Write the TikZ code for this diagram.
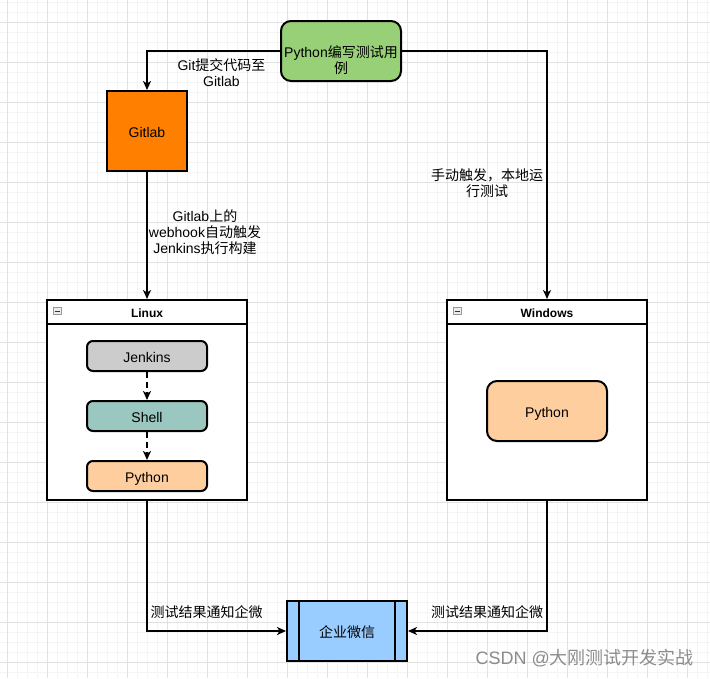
\documentclass[tikz,border=0pt]{standalone}
\usepackage{fontspec}
\setmainfont{Liberation Sans}
\newfontfamily\cjk{Noto Sans CJK SC}
\newcommand{\zh}[1]{{\cjk #1}}
\usetikzlibrary{arrows.meta}
\definecolor{gridmajor}{HTML}{E2E2E2}
\definecolor{gridminor}{HTML}{F4F4F4}
\definecolor{pygreen}{HTML}{97D077}
\definecolor{gitorange}{HTML}{FF8000}
\definecolor{jgray}{HTML}{CCCCCC}
\definecolor{shteal}{HTML}{9AC7BF}
\definecolor{pypeach}{HTML}{FFCE9F}
\definecolor{wxblue}{HTML}{99CCFF}
\definecolor{wmgray}{HTML}{8C8C8C}
\tikzset{
  base/.style={draw=black, line width=2pt, align=center, inner sep=1pt,
    text height=12pt, text depth=0pt,
    font=\fontsize{14pt}{16pt}\selectfont, text=black},
  roundbox/.style={base, rounded corners=6pt, minimum width=120pt, minimum height=30pt},
  bigbox/.style={base, rounded corners=10pt, minimum width=120pt, minimum height=60pt},
  container/.style={draw=black, line width=2pt, fill=white, minimum width=200pt, minimum height=200pt, inner sep=0pt},
  title/.style={font=\bfseries\fontsize{12pt}{14pt}\selectfont, text=black},
  lbl/.style={align=center, font=\fontsize{14pt}{16pt}\selectfont, text=black, inner sep=0pt},
  conn/.style={line width=1.6pt, draw=black, -{Stealth[length=9pt,width=8pt,inset=2.5pt]}},
  dconn/.style={conn, dash pattern=on 6pt off 4pt},
  minusicon/.style={draw=gray!80, line width=0.6pt, fill=gray!15, minimum width=8pt, minimum height=7pt, inner sep=0pt}
}
\begin{document}
\begin{tikzpicture}[x=1pt,y=-1pt]
\useasboundingbox (0,0) rectangle (710,678);
\fill[white] (0,0) rectangle (710,678);
% grid
\foreach \x in {7,17,...,707} \draw[gridminor, line width=0.8pt] (\x,0) -- (\x,678);
\foreach \y in {2,12,...,672} \draw[gridminor, line width=0.8pt] (0,\y) -- (710,\y);
\foreach \x in {7,47,...,707} \draw[gridmajor, line width=0.8pt] (\x,0) -- (\x,678);
\foreach \y in {22,62,...,662} \draw[gridmajor, line width=0.8pt] (0,\y) -- (710,\y);

% top nodes
\node[bigbox, fill=pygreen, text width=116pt] (py) at (341,51) {Python\zh{编写测试用}\\\zh{例}};
\node[base, fill=gitorange, minimum width=80pt, minimum height=80pt] (gitlab) at (147,131) {Gitlab};

% containers
\node[container] (linux) at (147,400) {};
\draw[line width=2pt] (47,324) coordinate (lh1) -- (247,324) coordinate (lh2);
\node[title] (linuxt) at (147,313.5) {Linux};
\node[minusicon] (lmin) at (57,311) {};
\draw[line width=1pt, black!80] (54.5,311) -- (59.5,311);

\node[container] (win) at (547,400) {};
\draw[line width=2pt] (447,324) coordinate (wh1) -- (647,324) coordinate (wh2);
\node[title] (wint) at (547,313.5) {Windows};
\node[minusicon] (wmin) at (457,311) {};
\draw[line width=1pt, black!80] (454.5,311) -- (459.5,311);

% inner nodes
\node[roundbox, fill=jgray] (jenkins) at (147,356) {Jenkins};
\node[roundbox, fill=shteal] (shell) at (147,416) {Shell};
\node[roundbox, fill=pypeach] (pyl) at (147,476) {Python};
\node[bigbox, fill=pypeach] (pyw) at (547,411) {Python};

% wechat process
\node[base, fill=wxblue, minimum width=120pt, minimum height=60pt] (wx) at (347,631) {\zh{企业微信}};
\draw[line width=2pt] ([xshift=13pt]wx.north west) -- ([xshift=13pt]wx.south west);
\draw[line width=2pt] ([xshift=-13pt]wx.north east) -- ([xshift=-13pt]wx.south east);

% connectors
\draw[conn] (py.west) -| (gitlab.north);
\draw[conn] (py.east) -| (win.north);
\draw[conn] (gitlab.south) -- (linux.north);
\draw[dconn] (jenkins.south) -- (shell.north);
\draw[dconn] (shell.south) -- (pyl.north);
\draw[conn] (linux.south) |- (wx.west);
\draw[conn] (win.south) |- (wx.east);

% labels
\node[lbl] (l1) at (221.5,72.5) {Git\zh{提交代码至}\\Gitlab};
\node[lbl] (l2) at (487,183) {\zh{手动触发，本地运}\\\zh{行测试}};
\node[lbl] (l3) at (205,232) {Gitlab\zh{上的}\\webhook\zh{自动触发}\\Jenkins\zh{执行构建}};
\node[lbl] (l4) at (206.5,612) {\zh{测试结果通知企微}};
\node[lbl] (l5) at (487,612) {\zh{测试结果通知企微}};

% watermark
\node[anchor=east, inner sep=0pt, text=wmgray, font=\fontsize{18pt}{20pt}\selectfont] (wm) at (694,658) {CSDN @\zh{大刚测试开发实战}};
\end{tikzpicture}
\end{document}
